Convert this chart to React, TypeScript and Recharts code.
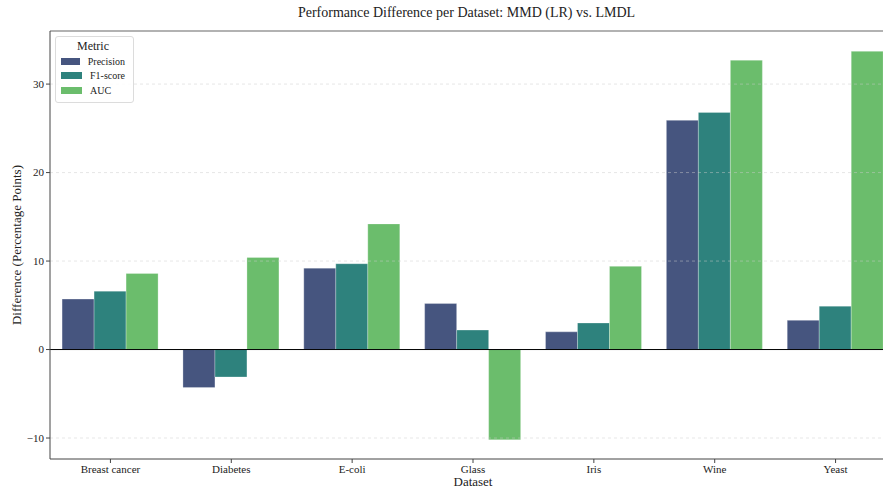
import {
  BarChart,
  Bar,
  XAxis,
  YAxis,
  ReferenceLine,
  Label,
} from "recharts";

const datasets = ["Breast cancer", "Diabetes", "E-coli", "Glass", "Iris", "Wine", "Yeast"];
const precision = [5.7, -4.3, 9.2, 5.2, 2.0, 25.9, 3.3];
const f1Score = [6.6, -3.1, 9.7, 2.2, 3.0, 26.8, 4.9];
const auc = [8.6, 10.4, 14.2, -10.2, 9.4, 32.7, 33.7];
const yTicks = [-10, 0, 10, 20, 30];
const gridTicks = [-10, 10, 20, 30];
const yDomain = [-12.37, 36];

const metrics = [
  { key: "precision", name: "Precision", color: "#46557f" },
  { key: "f1", name: "F1-score", color: "#2e827d" },
  { key: "auc", name: "AUC", color: "#6bbd6c" },
];

const data = datasets.map((d, i) => ({
  dataset: d,
  precision: precision[i],
  f1: f1Score[i],
  auc: auc[i],
}));

const FONT = '"Liberation Serif", "Times New Roman", serif';

// legend box in the upper-left corner of the axes
function MetricLegend() {
  return (
    <div
      style={{
        position: "absolute",
        left: 55,
        top: 36,
        fontFamily: FONT,
        border: "1px solid #dcdcdc",
        borderRadius: 3,
        background: "rgba(255,255,255,0.85)",
        padding: "2px 8px 4px 5px",
        width: 64,
        color: "#222",
      }}
    >
      <div style={{ textAlign: "center", fontSize: 12, lineHeight: "14px", marginBottom: 1 }}>Metric</div>
      {metrics.map((m) => (
        <div key={m.key} style={{ display: "flex", alignItems: "center", height: 14.5, fontSize: 10 }}>
          <span style={{ width: 21, height: 7, background: m.color, display: "inline-block", marginRight: 8 }} />
          <span>{m.name}</span>
        </div>
      ))}
    </div>
  );
}

const fmt = (v: number) => (v < 0 ? `\u2212${Math.abs(v)}` : `${v}`);

export default function App() {
  return (
    <div
      style={{
        width: 883,
        height: 490,
        background: "#fff",
        position: "relative",
        overflow: "hidden",
      }}
    >
      <style>{`html, body { margin: 0; padding: 0; }`}</style>
      <BarChart
        width={896}
        height={490}
        data={data}
        margin={{ top: 31, right: 0, bottom: 0, left: 0 }}
        barCategoryGap="10%"
        barGap={0}
      >
        <XAxis
          dataKey="dataset"
          height={31}
          stroke="#444"
          tickSize={4}
          tick={{ fontFamily: FONT, fontSize: 11, fill: "#222" }}
          interval={0}
        >
          <Label
            value="Dataset"
            position="insideBottom"
            offset={4}
            style={{ fontFamily: FONT, fontSize: 13, fill: "#222" }}
          />
        </XAxis>
        <YAxis
          width={50}
          type="number"
          domain={yDomain}
          ticks={yTicks}
          allowDataOverflow
          tickFormatter={fmt}
          stroke="#444"
          tickSize={4}
          tick={{ fontFamily: FONT, fontSize: 11, fill: "#222" }}
        >
          <Label
            value="Difference (Percentage Points)"
            angle={-90}
            position="insideLeft"
            offset={16}
            style={{ fontFamily: FONT, fontSize: 13, fill: "#222", textAnchor: "middle" }}
          />
        </YAxis>
        {metrics.map((m) => (
          <Bar
            key={m.key}
            dataKey={m.key}
            name={m.name}
            fill={m.color}
            stroke="#ffffff"
            strokeOpacity={0.45}
            strokeWidth={0.6}
            isAnimationActive={false}
          />
        ))}
        {gridTicks.map((t) => (
          <ReferenceLine
            key={t}
            y={t}
            stroke="#cccccc"
            strokeOpacity={0.6}
            strokeDasharray="3 3"
            strokeWidth={0.8}
          />
        ))}
        <ReferenceLine y={0} stroke="#000" strokeWidth={1} />
        {/* top spine */}
        <ReferenceLine y={yDomain[1]} stroke="#666" strokeWidth={1.2} />
      </BarChart>
      <div
        style={{
          position: "absolute",
          left: 50,
          width: 833,
          top: 4,
          textAlign: "center",
          fontFamily: FONT,
          fontSize: 14,
          lineHeight: "18px",
          color: "#222",
        }}
      >
        Performance Difference per Dataset: MMD (LR) vs. LMDL
      </div>
      <MetricLegend />
    </div>
  );
}
